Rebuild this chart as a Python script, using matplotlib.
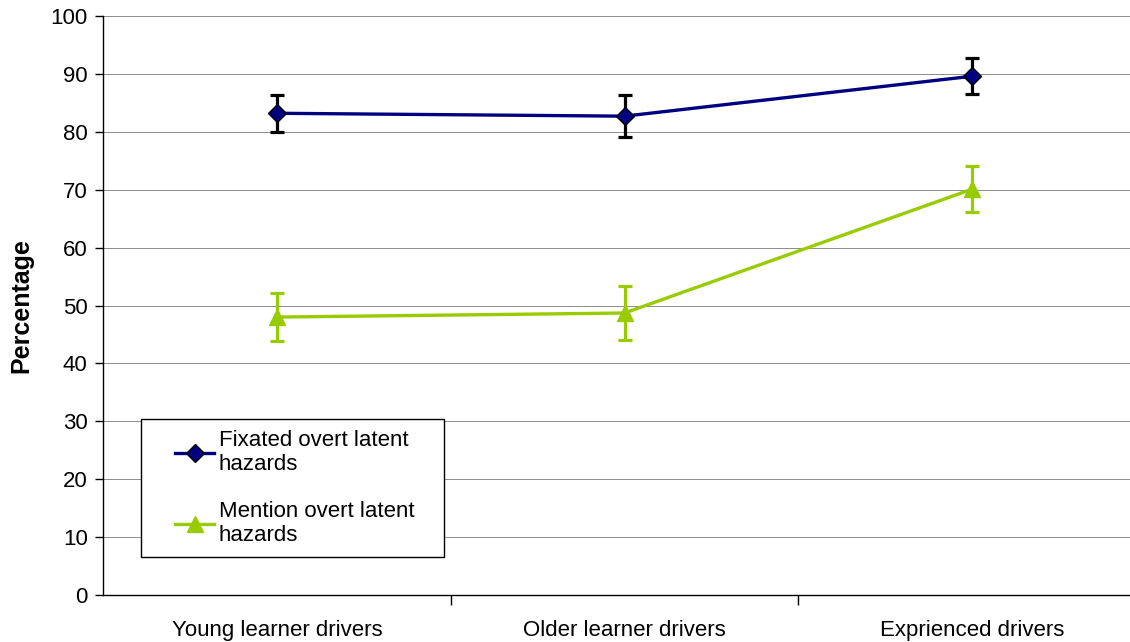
import matplotlib.pyplot as plt
import numpy as np
from matplotlib.legend_handler import HandlerLine2D

plt.rcParams['font.family'] = ['Liberation Sans', 'DejaVu Sans']

grupos = ['Young learner drivers', 'Older learner drivers', 'Exprienced drivers']
fixated = [83.2, 82.7, 89.6]
fixated_err = [3.2, 3.6, 3.1]
mention = [48.0, 48.7, 70.1]
mention_err = [4.2, 4.7, 4.0]

azul = '#000080'
verde = '#99cc00'

fig = plt.figure(figsize=(11.3, 6.42), dpi=100)
# eixo passa um pouco da borda direita
ax = fig.add_axes([103 / 1130, 47 / 642, 1043 / 1130, 579 / 642])

x = np.arange(len(grupos))

ax.errorbar(x, fixated, yerr=fixated_err, fmt='none', ecolor='black',
            elinewidth=2.3, capsize=5, capthick=2.3, zorder=3)
l1, = ax.plot(x, fixated, color=azul, lw=2.4, marker='D', ms=9,
              mfc=azul, mec='black', mew=1, zorder=4,
              label='Fixated overt latent\nhazards')

ax.errorbar(x, mention, yerr=mention_err, fmt='none', ecolor=verde,
            elinewidth=2.3, capsize=5, capthick=2.3, zorder=3)
l2, = ax.plot(x, mention, color=verde, lw=2.4, marker='^', ms=11,
              mfc=verde, mec=verde, zorder=4,
              label='Mention overt latent\nhazards')

ax.set_xlim(-0.5, 2.5)
ax.set_ylim(0, 100)
ax.set_yticks(range(0, 101, 10))
ax.yaxis.grid(True, color='#8c8c8c', lw=0.7)
ax.set_axisbelow(True)

ax.set_xticks(x)
ax.set_xticklabels(grupos, fontsize=16)
ax.tick_params(axis='x', which='major', length=0, pad=18)
ax.set_xticks([0.5, 1.5], minor=True)
ax.tick_params(axis='x', which='minor', length=7, width=1, direction='out')
ax.tick_params(axis='y', length=6, width=1, labelsize=16, pad=5)

for lado in ['top', 'right']:
    ax.spines[lado].set_visible(False)
ax.spines['left'].set_linewidth(1)
ax.spines['bottom'].set_linewidth(1)

ax.set_ylabel('Percentage', fontsize=18, fontweight='bold', labelpad=12)

leg = ax.legend(loc='lower left', bbox_to_anchor=(0.0364, 0.0656, 0.2905, 0.24),
                mode='expand', fontsize=16, frameon=True, fancybox=False,
                edgecolor='black', framealpha=1, handlelength=2.77,
                labelspacing=1.15, borderpad=0.5, handletextpad=0.23,
                borderaxespad=0,
                handler_map={l1: HandlerLine2D(xpad=1.05),
                             l2: HandlerLine2D(xpad=1.05)})
leg.get_frame().set_linewidth(1)

fig.savefig('out.png', dpi=100)
